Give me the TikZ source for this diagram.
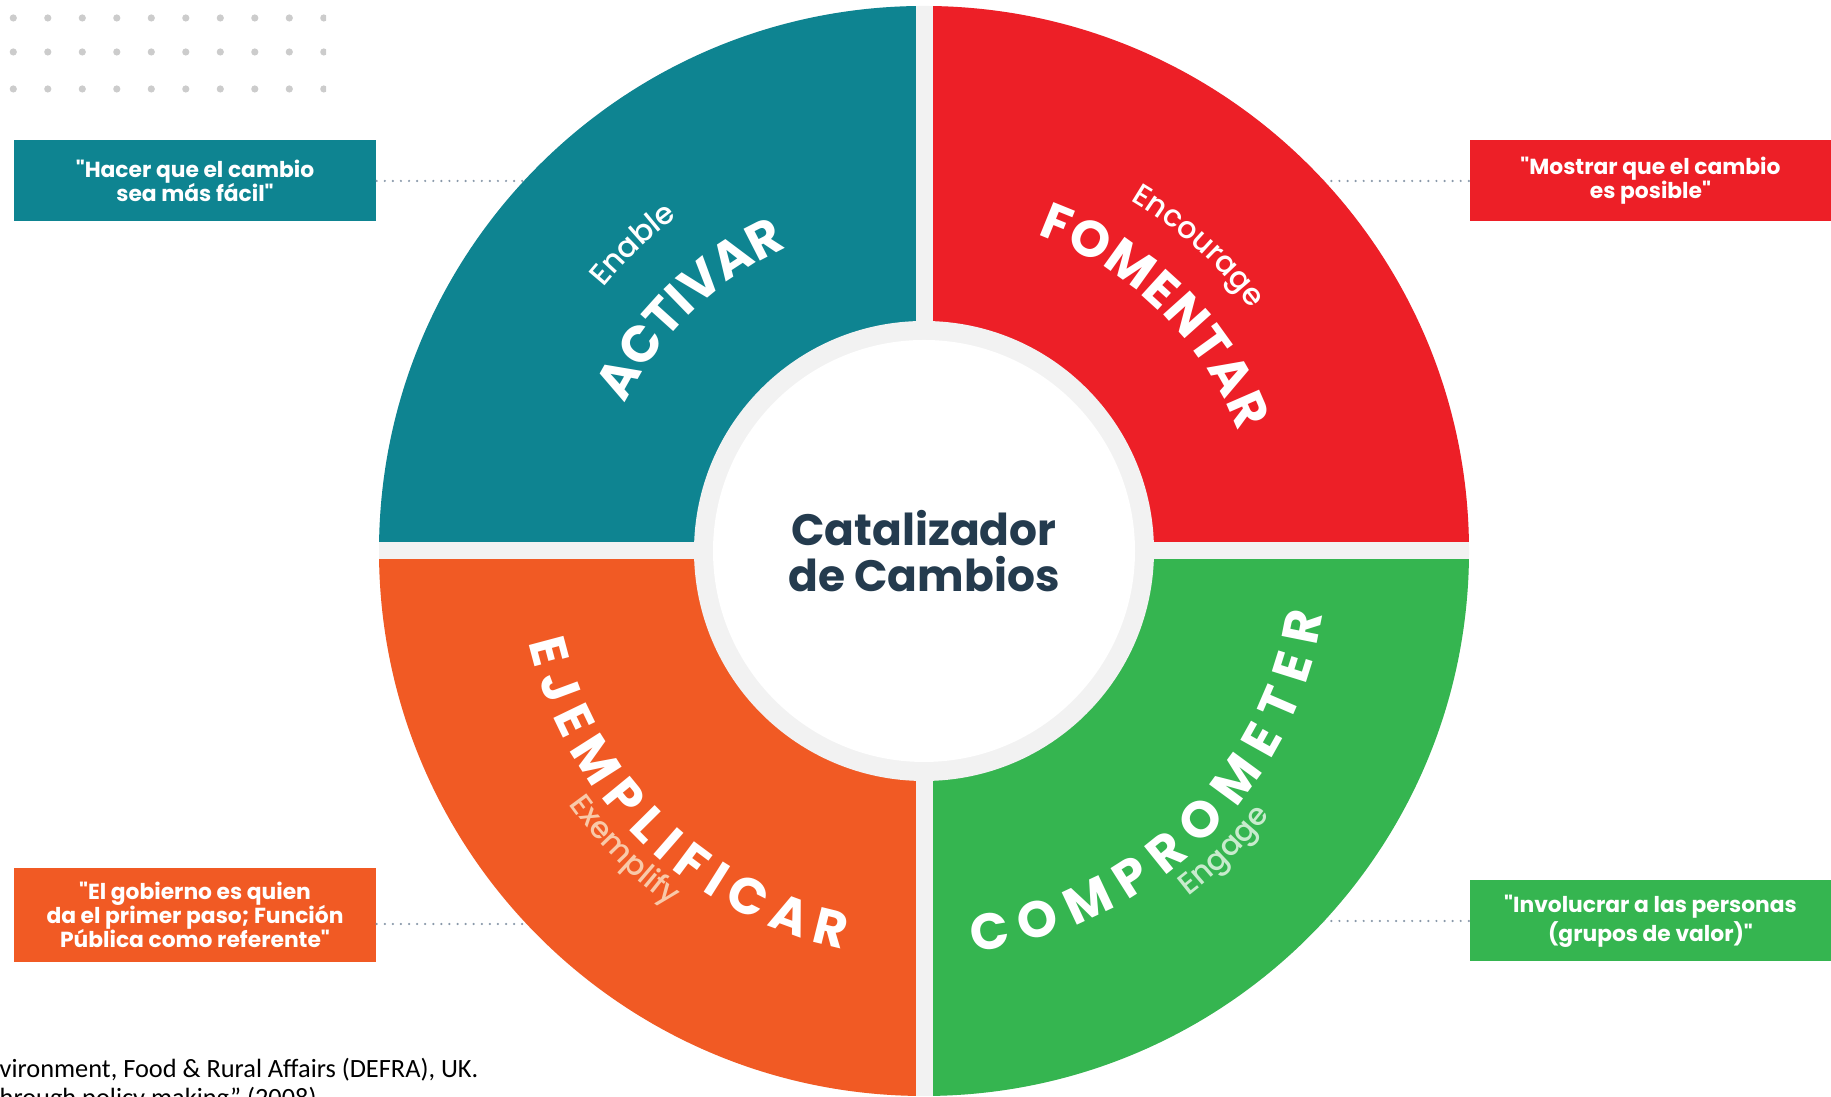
\documentclass[tikz,border=0pt]{standalone}
\usepackage{fontspec}
\setmainfont{Poppins}[Ligatures=TeXOff]
\newfontfamily\popmed{Poppins}[UprightFont={* Medium}]
\newfontfamily\srcfont{Carlito}
\usepackage{tikz}
\usetikzlibrary{decorations.text}
\definecolor{activar}{HTML}{0E8491}
\definecolor{fomentar}{HTML}{ED1F27}
\definecolor{ejemplo}{HTML}{F15A24}
\definecolor{compro}{HTML}{35B550}
\definecolor{ringgray}{HTML}{F2F2F2}
\definecolor{navy}{HTML}{243B4E}
\definecolor{dotgray}{HTML}{CCCCCC}
\definecolor{linegray}{HTML}{8A99AA}
\definecolor{peach}{HTML}{F8C9A9}
\definecolor{mint}{HTML}{C8EBCD}
\newcommand\mainlbl{\bfseries\fontsize{14.5}{14.5}\selectfont}
\newcommand\sublbl{\popmed\fontsize{8.6}{8.6}\selectfont}
\tikzset{
  quotebox/.style={fill=#1, text=white, font=\bfseries\fontsize{6.2}{6.9}\selectfont,
    align=center, minimum width=36.2mm, minimum height=8.1mm, inner sep=0pt},
  dotline/.style={linegray, line width=0.7pt, line cap=round, dash pattern=on 0pt off 2.3pt},
  arctext/.style={decorate, decoration={text along path, text color=#1, text align=center}}
}

\begin{document}
\begin{tikzpicture}[x=0.1mm, y=0.1mm]
  \useasboundingbox (0,0) rectangle (1831,1097);
  \coordinate (C) at (924,546);

  \begin{scope}
    \clip (0,990) rectangle (326,1097);
    \foreach \y in {1079,1045,1008}
      \foreach \i in {0,...,9}
        \fill[dotgray] (13.3+34.5*\i,\y) circle (3.6);
  \end{scope}

  \node[quotebox=activar] (hacer) at (195,916) {"Hacer que el cambio\\sea más fácil"};
  \node[quotebox=fomentar] (mostrar) at (1650.5,916) {"Mostrar que el cambio\\es posible"};
  \node[quotebox=ejemplo, minimum height=9.4mm] (gobierno) at (195,182)
    {"El gobierno es quien\\da el primer paso; Función\\Pública como referente"};
  \node[quotebox=compro] (involucrar) at (1650.5,176)
    {"Involucrar a las personas\\(grupos de valor)"};

  \coordinate (dE) at (924,173);
  \draw[dotline] (hacer.east) -- (hacer.east -| C);
  \draw[dotline] (mostrar.west) -- (mostrar.west -| C);
  \draw[dotline] (gobierno.east |- dE) -- (dE);
  \draw[dotline] (involucrar.west) -- (involucrar.west -| C);

  \fill[ringgray] (C) circle (545);
  \begin{scope}
    \clip (C) circle (545);
    \foreach \col/\sx/\sy in {activar/-1/1, fomentar/1/1, ejemplo/-1/-1, compro/1/-1}
      \fill[\col] ([shift={(8.5*\sx,8.5*\sy)}]C) rectangle ++(550*\sx,550*\sy);
  \end{scope}
  \fill[ringgray] (C) circle (230);
  \fill[white] (C) circle (211);

  \path[arctext=white, decoration={text={|\mainlbl|ACTIVAR}}] (C) ++(155:333) arc (155:113:333);
  \path[arctext=white, decoration={text={|\sublbl|Enable}}] (C) ++(160:415) arc (160:107:415);
  \path[arctext=white, decoration={text={|\mainlbl|FOMENTAR}, text align=fit to path}]
    (C) ++(70.3:336) arc (70.3:20.7:336);
  \path[arctext=white, decoration={text={|\sublbl|Encourage}}] (C) ++(75:407) arc (75:21:407);
  \path[arctext=white, decoration={text={|\mainlbl|EJEMPLIFICAR}, text align=fit to path}]
    (C) ++(193:406) arc (193:258.5:406);
  \path[arctext=peach, decoration={text={|\sublbl|Exemplify}}] (C) ++(200:436) arc (200:250:436);
  \path[arctext=white, decoration={text={|\mainlbl|COMPROMETER}, text align=fit to path}]
    (C) ++(277:404) arc (277:351:404);
  \path[arctext=mint, decoration={text={|\sublbl|Engage}}] (C) ++(290:435) arc (290:340:435);

  \node[text=navy, font=\bfseries\fontsize{12.5}{13.1}\selectfont, align=center] (cat) at (C)
    {Catalizador\\de Cambios};

  \node[anchor=base west, inner sep=0pt, font=\srcfont\fontsize{7.5}{9}\selectfont] (src) at (-1,19)
    {vironment, Food \& Rural Affairs (DEFRA), UK.};
  \node[anchor=base west, inner sep=0pt, font=\srcfont\fontsize{7.5}{9}\selectfont] (src2) at (-1,-10)
    {hrough policy making” (2008).};
\end{tikzpicture}
\end{document}
